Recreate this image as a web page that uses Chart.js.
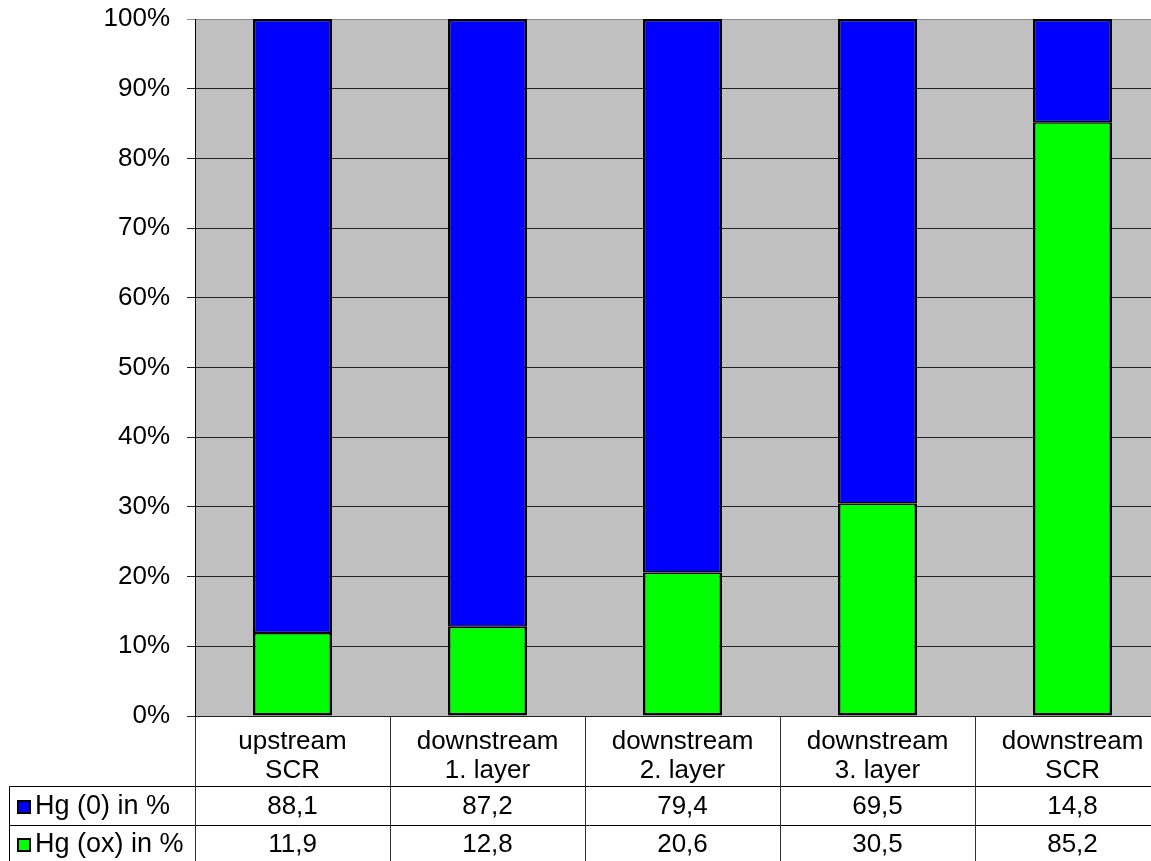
<!DOCTYPE html>
<html>
<head>
<meta charset="utf-8">
<script src="https://cdn.jsdelivr.net/npm/chart.js@4"></script>
<style>
  html, body { margin: 0; padding: 0; background: #fff; overflow: hidden; }
  #wrap { width: 1151px; height: 861px; overflow: hidden; position: relative; }
  canvas { display: block; }
</style>
</head>
<body>
<div id="wrap"><canvas id="c" width="1171" height="861"></canvas></div>
<script>
// Measuring positions along the flue gas path
const categories = [
  ['upstream', 'SCR'],
  ['downstream', '1. layer'],
  ['downstream', '2. layer'],
  ['downstream', '3. layer'],
  ['downstream', 'SCR']
];
// Elemental mercury share, %
const hg0 = [88.1, 87.2, 79.4, 69.5, 14.8];
// Oxidised mercury share, %
const hgOx = [11.9, 12.8, 20.6, 30.5, 85.2];
const seriesNames = ['Hg (0) in %', 'Hg (ox) in %'];
const seriesColors = ['#0000FF', '#00FF00'];
const yTicks = [0, 10, 20, 30, 40, 50, 60, 70, 80, 90, 100];

const FONT = '"Liberation Sans", Arial, sans-serif';
const FSIZE = 26;

const fmt = v => v.toFixed(1).replace('.', ',');

// Grey plot area background
const plotBg = {
  id: 'plotBg',
  beforeDraw(chart) {
    const { ctx, chartArea: a } = chart;
    ctx.save();
    ctx.fillStyle = '#C0C0C0';
    ctx.fillRect(a.left, a.top, a.right - a.left, a.bottom - a.top);
    ctx.restore();
  }
};

// Data table under the plot: category header row + one row per series
const dataTable = {
  id: 'dataTable',
  afterDraw(chart) {
    const { ctx, chartArea: a, scales } = chart;
    const x = scales.x;
    const n = categories.length;
    const colW = (a.right - a.left) / n;
    const top = Math.round(a.bottom) + 0.5;
    const r1 = 786.5, r2 = 825.5, bottom = chart.height;
    const leftEdge = 9.5;

    ctx.save();
    ctx.strokeStyle = '#000';
    ctx.lineWidth = 1;
    ctx.beginPath();
    // row separators
    ctx.moveTo(leftEdge, r1); ctx.lineTo(a.right, r1);
    ctx.moveTo(leftEdge, r2); ctx.lineTo(a.right, r2);
    // outer left edge of the legend column
    ctx.moveTo(leftEdge, r1); ctx.lineTo(leftEdge, bottom);
    ctx.stroke();
    // column separators
    ctx.strokeStyle = '#333';
    ctx.beginPath();
    for (let i = 0; i <= n; i++) {
      const cx = Math.round(a.left + i * colW) + 0.5;
      ctx.moveTo(cx, top); ctx.lineTo(cx, bottom);
    }
    ctx.stroke();

    ctx.fillStyle = '#000';
    ctx.font = FSIZE + 'px ' + FONT;
    ctx.textAlign = 'center';
    ctx.textBaseline = 'middle';
    categories.forEach((lab, i) => {
      const cx = x.getPixelForValue(i);
      ctx.fillText(lab[0], cx, 742);
      ctx.fillText(lab[1], cx, 771);
      ctx.fillText(fmt(hg0[i]), cx, 807);
      ctx.fillText(fmt(hgOx[i]), cx, 845);
    });

    // legend keys + series names
    const rows = [807, 845];
    ctx.textAlign = 'left';
    ctx.font = (FSIZE + 1) + 'px ' + FONT;
    rows.forEach((ry, k) => {
      ctx.fillStyle = seriesColors[k];
      ctx.fillRect(18, ry - 6, 12, 12);
      ctx.strokeStyle = '#000';
      ctx.lineWidth = 2;
      ctx.strokeRect(18, ry - 6, 12, 12);
      ctx.fillStyle = '#000';
      ctx.fillText(seriesNames[k], 35, ry);
    });
    ctx.restore();
  }
};

new Chart(document.getElementById('c'), {
  type: 'bar',
  data: {
    labels: categories.map(c => c.join(' ')),
    datasets: [
      {
        label: seriesNames[1],
        data: hgOx,
        backgroundColor: seriesColors[1],
        borderColor: '#000',
        borderWidth: { left: 2.5, right: 2.5, bottom: 2.5, top: 1.5 },
        borderSkipped: false
      },
      {
        label: seriesNames[0],
        data: hg0,
        backgroundColor: seriesColors[0],
        borderColor: '#000',
        borderWidth: { left: 2.5, right: 2.5, top: 2.5, bottom: 1.5 },
        borderSkipped: false
      }
    ]
  },
  options: {
    responsive: false,
    animation: false,
    devicePixelRatio: 1,
    layout: { padding: { top: 19, right: 1, bottom: 145, left: 0 } },
    datasets: { bar: { categoryPercentage: 1, barPercentage: 0.405 } },
    plugins: { legend: { display: false }, tooltip: { enabled: false } },
    scales: {
      x: {
        stacked: true,
        display: false
      },
      y: {
        stacked: true,
        min: 0,
        max: 100,
        afterBuildTicks(scale) { scale.ticks = yTicks.map(v => ({ value: v })); },
        afterFit(scale) {
          scale.width = 195;
          scale.paddingTop = 0;
          scale.paddingBottom = 0;
        },
        grid: {
          color: ctx => (ctx.tick && ctx.tick.value === 100) ? '#8a8a8a' : '#222',
          lineWidth: 1,
          tickLength: 8,
          drawTicks: true
        },
        border: { display: true, color: '#000', width: 1 },
        ticks: {
          padding: 17,
          color: '#000',
          font: { family: FONT, size: FSIZE },
          callback: v => v + '%'
        }
      }
    }
  },
  plugins: [plotBg, dataTable]
});
</script>
</body>
</html>
